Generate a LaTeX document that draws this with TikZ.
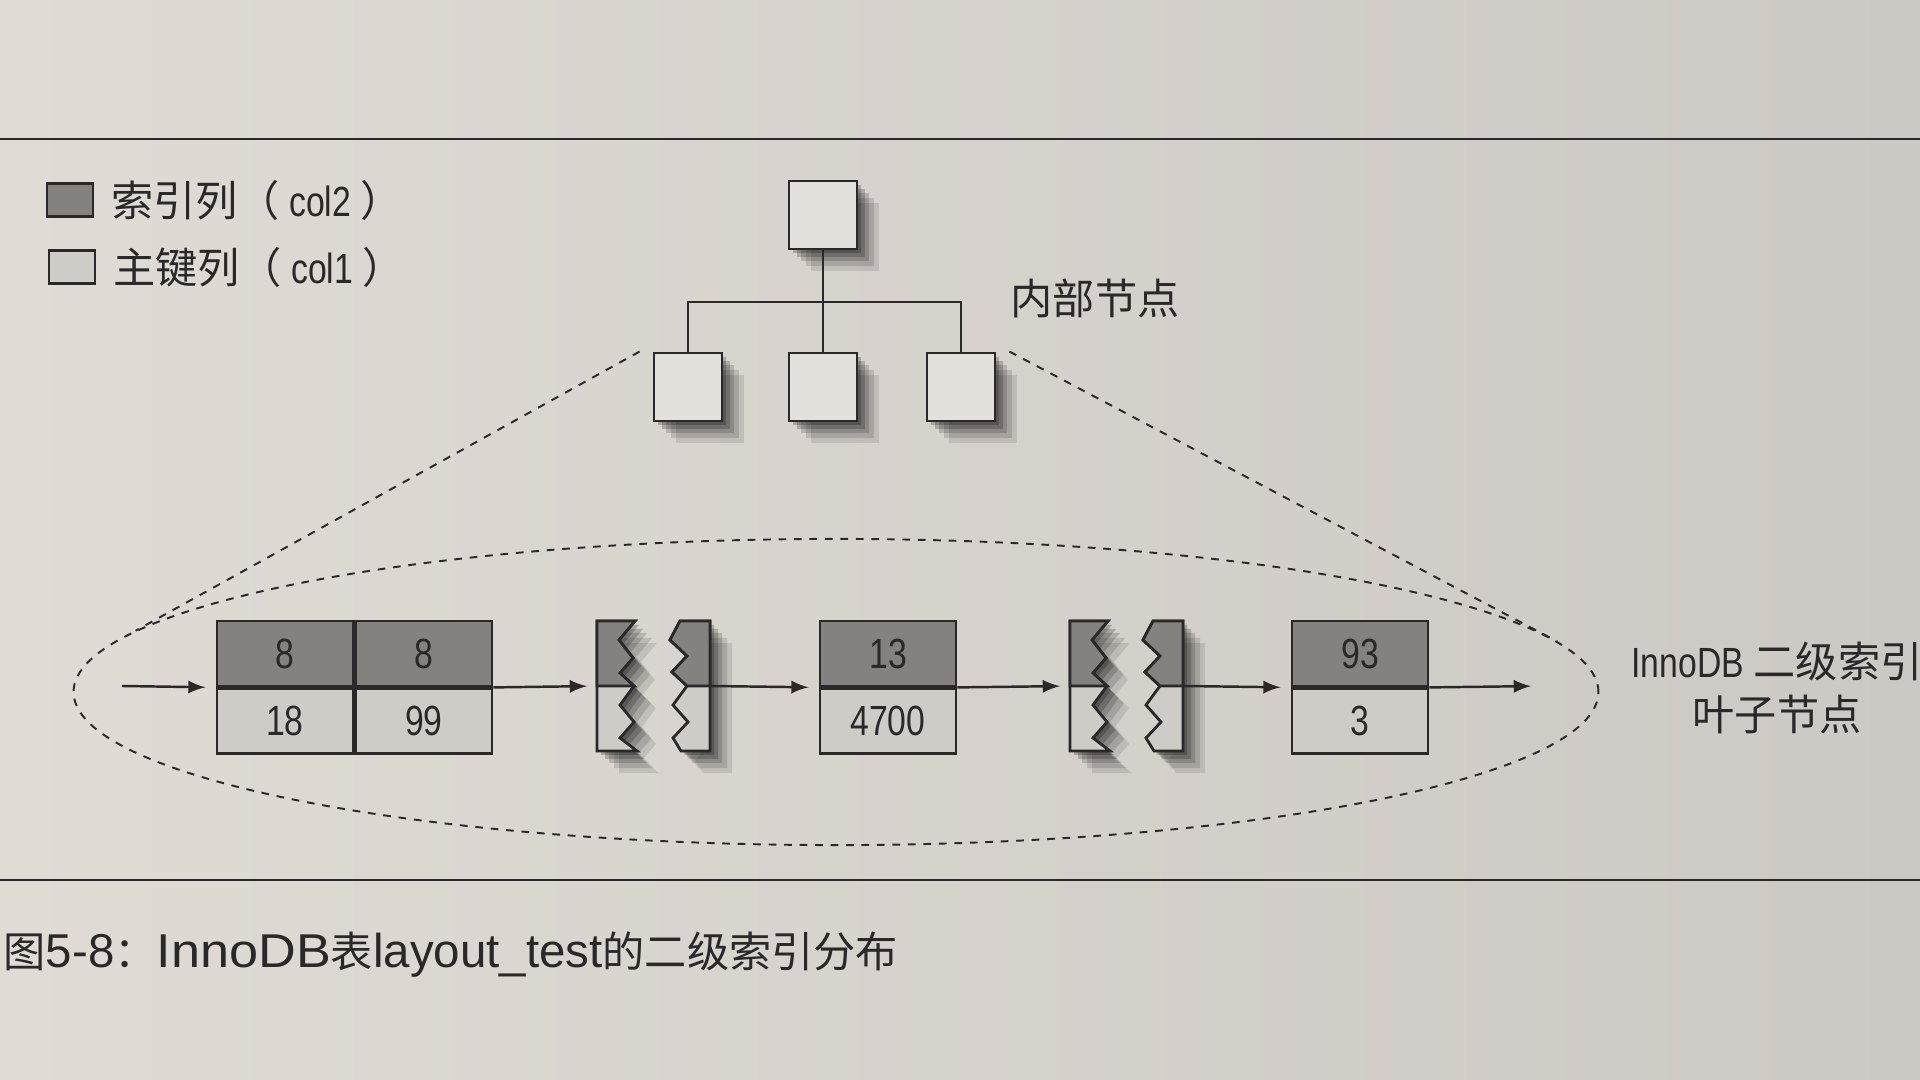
\documentclass[tikz,border=0pt]{standalone}
\usepackage{fontspec}
\setmainfont{Liberation Sans}
\newfontfamily\cjk{Noto Sans CJK SC}
\newfontfamily\narrow[FakeStretch=0.8]{Liberation Sans}
\usetikzlibrary{arrows,shadows,positioning,shapes.geometric}

\definecolor{paper}{RGB}{224,219,213}
\definecolor{paperdark}{RGB}{204,200,195}
\definecolor{boxwhite}{RGB}{228,225,221}
\definecolor{keygray}{RGB}{132,129,126}
\definecolor{pkgray}{RGB}{207,204,200}
\definecolor{inkgray}{RGB}{42,40,40}

\newcommand\capcjk[1]{{\cjk\fontsize{12pt}{15pt}\selectfont #1}}

\tikzset{
	softshadow/.style={
		drop shadow={shadow xshift=0.22cm, shadow yshift=-0.22cm, opacity=.1, fill=black},
		drop shadow={shadow xshift=0.17cm, shadow yshift=-0.17cm, opacity=.13, fill=black},
		drop shadow={shadow xshift=0.12cm, shadow yshift=-0.12cm, opacity=.16, fill=black},
		drop shadow={shadow xshift=0.08cm, shadow yshift=-0.08cm, opacity=.2, fill=black},
		drop shadow={shadow xshift=0.04cm, shadow yshift=-0.04cm, opacity=.22, fill=black}},
	treebox/.style={draw=inkgray, fill=boxwhite, line width=0.8pt, minimum width=0.68cm, minimum height=0.68cm, inner sep=0, softshadow},
	cellkey/.style={draw=inkgray, fill=keygray, line width=0.8pt, minimum width=1.36cm, minimum height=0.65cm, inner sep=0, text=inkgray, font=\narrow\fontsize{12pt}{14pt}\selectfont},
	cellpk/.style={cellkey, fill=pkgray},
	brkpiece/.style={draw=inkgray, line width=0.8pt, line join=miter},
	treeline/.style={draw=inkgray, line width=0.8pt},
	nextarrow/.style={-latex, draw=inkgray, line width=0.7pt, shorten >=0.1cm},
	dashline/.style={draw=inkgray, line width=0.55pt, dash pattern=on 2.2pt off 2.2pt},
	leafzone/.style={ellipse, dashline, minimum width=15.24cm, minimum height=3.06cm, inner sep=0},
	lbltext/.style={inner sep=0, text=inkgray, font=\cjk\fontsize{12pt}{15pt}\selectfont},
	pagerule/.style={draw=inkgray, line width=0.6pt}
}

\begin{document}
\begin{tikzpicture}[x=0.01cm, y=-0.01cm]
	\useasboundingbox (0,0) rectangle (1920,1080);
	\clip (0,0) rectangle (1920,1080);
	\shade[left color=paper, right color=paperdark] (0,0) rectangle (1920,1080);
	\draw[pagerule] (0,139) -- (1920,139);
	\draw[pagerule] (0,880) -- (1920,880);

	% legend
	\node[cellkey, minimum width=0.46cm, minimum height=0.33cm] (keysw) at (70,200) {};
	\node[lbltext, right=0.16cm of keysw] (keytxt) {索引列（{\narrow\ col2\ }）};
	\node[cellpk, minimum width=0.46cm, minimum height=0.33cm] (pksw) at (72,267) {};
	\node[lbltext, right=0.16cm of pksw] (pktxt) {主键列（{\narrow\ col1\ }）};

	% internal nodes
	\node[treebox] (root) at (823,215) {};
	\node[treebox] (inA) at (688,387) {};
	\node[treebox] (inB) at (823,387) {};
	\node[treebox] (inC) at (961,387) {};
	\coordinate (fork) at (823,302);
	\draw[treeline] (root.south) -- (fork);
	\foreach \c in {inA,inB,inC}
		\draw[treeline] (fork) -| (\c.north);
	\node[lbltext] (innerlbl) at (1095,298) {内部节点};

	% leaf pages
	\node[cellkey] (A1) at (285,653.5) {8};
	\node[cellkey, right=0pt of A1] (A2) {8};
	\node[cellpk, below=0pt of A1] (A3) {18};
	\node[cellpk, below=0pt of A2] (A4) {99};
	\node[cellkey] (B1) at (888,653.5) {13};
	\node[cellpk, below=0pt of B1] (B2) {4700};
	\node[cellkey] (C1) at (1360,653.5) {93};
	\node[cellpk, below=0pt of C1] (C2) {3};

	% torn pages
	\foreach \dx/\nm in {0/brkA, 473/brkB}{
		\begin{scope}[shift={(\dx,0)}]
			\filldraw[brkpiece, fill=pkgray, softshadow] (597,621) -- (635,621) -- (619,640) -- (633,658) -- (620,673) -- (634,686) -- (620,705) -- (634,722) -- (620,738) -- (637,751) -- (597,751) -- cycle;
			\filldraw[brkpiece, fill=keygray] (597,621) -- (635,621) -- (619,640) -- (633,658) -- (620,673) -- (634,686) -- (597,686) -- cycle;
			\filldraw[brkpiece, fill=pkgray, softshadow] (680,621) -- (710,621) -- (710,751) -- (681,751) -- (673,738) -- (688,722) -- (673,705) -- (687,686) -- (672,672) -- (687,656) -- (670,640) -- cycle;
			\filldraw[brkpiece, fill=keygray] (680,621) -- (710,621) -- (710,686) -- (687,686) -- (672,672) -- (687,656) -- (670,640) -- cycle;
			\coordinate (\nm in) at (597,686);
			\coordinate (\nm out) at (710,686);
		\end{scope}
	}

	% leaf links
	\coordinate (start) at (122,686);
	\coordinate (finish) at (1541,686);
	\draw[nextarrow] (start) -- (A1.south west);
	\draw[nextarrow] (A2.south east) -- (brkAin);
	\draw[nextarrow] (brkAout) -- (B1.south west);
	\draw[nextarrow] (B1.south east) -- (brkBin);
	\draw[nextarrow] (brkBout) -- (C1.south west);
	\draw[nextarrow] (C1.south east) -- (finish);

	% leaf level outline
	\node[leafzone] (zone) at (836,692) {};
	\draw[dashline] ([xshift=-0.13cm]inA.north west) -- (zone.175.8);
	\draw[dashline] ([xshift=0.13cm]inC.north east) -- (zone.4.4);
	\node[lbltext, align=center] (leaflbl) at (1777,688) {{\narrow InnoDB} 二级索引\\叶子节点};

	% caption
	\node[anchor=west, inner sep=0, text=inkgray, font=\fontsize{13.5pt}{15pt}\selectfont] (caption) at (3,955) {\capcjk{图}5-8\capcjk{：}\scalebox{1.1}[1]{InnoDB}\capcjk{表}layout\_test\capcjk{的二级索引分布}};
\end{tikzpicture}
\end{document}
